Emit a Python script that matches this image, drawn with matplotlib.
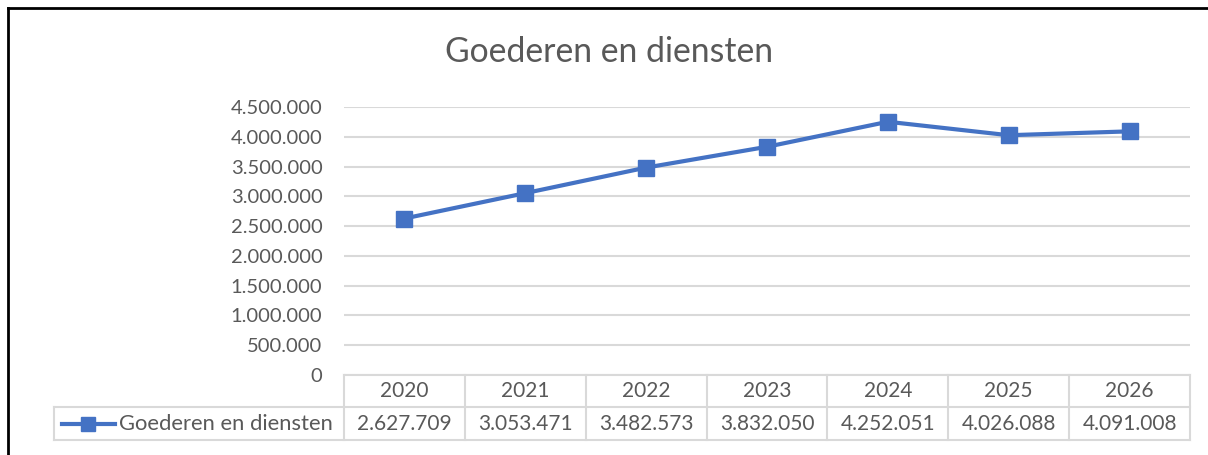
import matplotlib.pyplot as plt
from matplotlib.lines import Line2D
from matplotlib.transforms import blended_transform_factory

years = ['2020', '2021', '2022', '2023', '2024', '2025', '2026']
values = [2627709, 3053471, 3482573, 3832050, 4252051, 4026088, 4091008]
series_name = 'Goederen en diensten'
title = 'Goederen en diensten'

blue = '#4472C4'
grey_text = '#595959'
grid_col = '#d9d9d9'

plt.rcParams['font.family'] = ['Lato', 'DejaVu Sans']

W, H = 1208, 455
fig = plt.figure(figsize=(W / 100, H / 100), dpi=100)


def fx(px):
    return px / W


def fy(py):
    return 1 - py / H


ax = fig.add_axes([fx(344), fy(375), fx(1190) - fx(344), fy(107) - fy(375)])
x = list(range(len(years)))
ax.plot(x, values, color=blue, lw=3, marker='s', ms=12, mfc=blue, mec=blue, zorder=3)
ax.set_xlim(-0.5, len(years) - 0.5)
ax.set_ylim(0, 4500000)
ticks = list(range(0, 4500001, 500000))
ax.set_yticks(ticks)
ax.set_yticklabels(['{:,}'.format(t).replace(',', '.') for t in ticks])
ax.tick_params(axis='y', length=0, pad=15.5, labelsize=14.5, labelcolor=grey_text)
ax.set_xticks([])
for s in ax.spines.values():
    s.set_visible(False)
ax.grid(axis='y', color=grid_col, lw=1.5)
ax.set_axisbelow(True)

fig.text(fx(609), fy(52), title, ha='center', va='center', fontsize=24.3, color=grey_text)

# data table
tr = blended_transform_factory(ax.transData, fig.transFigure)
y0, y1, y2 = fy(375), fy(407), fy(440)
tkw = dict(color=grid_col, lw=1.5, transform=tr, clip_on=False)
for k in range(len(years) + 1):
    ax.add_line(Line2D([k - 0.5, k - 0.5], [y0, y2], **tkw))
ax.add_line(Line2D([-0.5, len(years) - 0.5], [y0, y0], **tkw))
for yy in (y1, y2):
    fig.add_artist(Line2D([fx(54), fx(1190)], [yy, yy], color=grid_col, lw=1.5))
fig.add_artist(Line2D([fx(54), fx(54)], [y1, y2], color=grid_col, lw=1.5))

for i, (yr, v) in enumerate(zip(years, values)):
    ax.text(i, (y0 + y1) / 2, yr, transform=tr, ha='center', va='center',
            fontsize=15, color=grey_text, clip_on=False)
    ax.text(i, (y1 + y2) / 2, '{:,}'.format(v).replace(',', '.'), transform=tr,
            ha='center', va='center', fontsize=15, color=grey_text, clip_on=False)

ym = (y1 + y2) / 2
fig.add_artist(Line2D([fx(62), fx(115)], [ym, ym], color=blue, lw=3))
fig.add_artist(Line2D([fx(88)], [ym], color=blue, marker='s', ms=9.5, lw=0))
fig.text(fx(119), ym, series_name, ha='left', va='center', fontsize=15.8, color=grey_text)

# outer border (top and left)
fig.add_artist(Line2D([fx(8), 1.0], [fy(8), fy(8)], color='black', lw=2))
fig.add_artist(Line2D([fx(8), fx(8)], [fy(8), 0.0], color='black', lw=2))

fig.savefig('out.png', dpi=100, facecolor='white')
